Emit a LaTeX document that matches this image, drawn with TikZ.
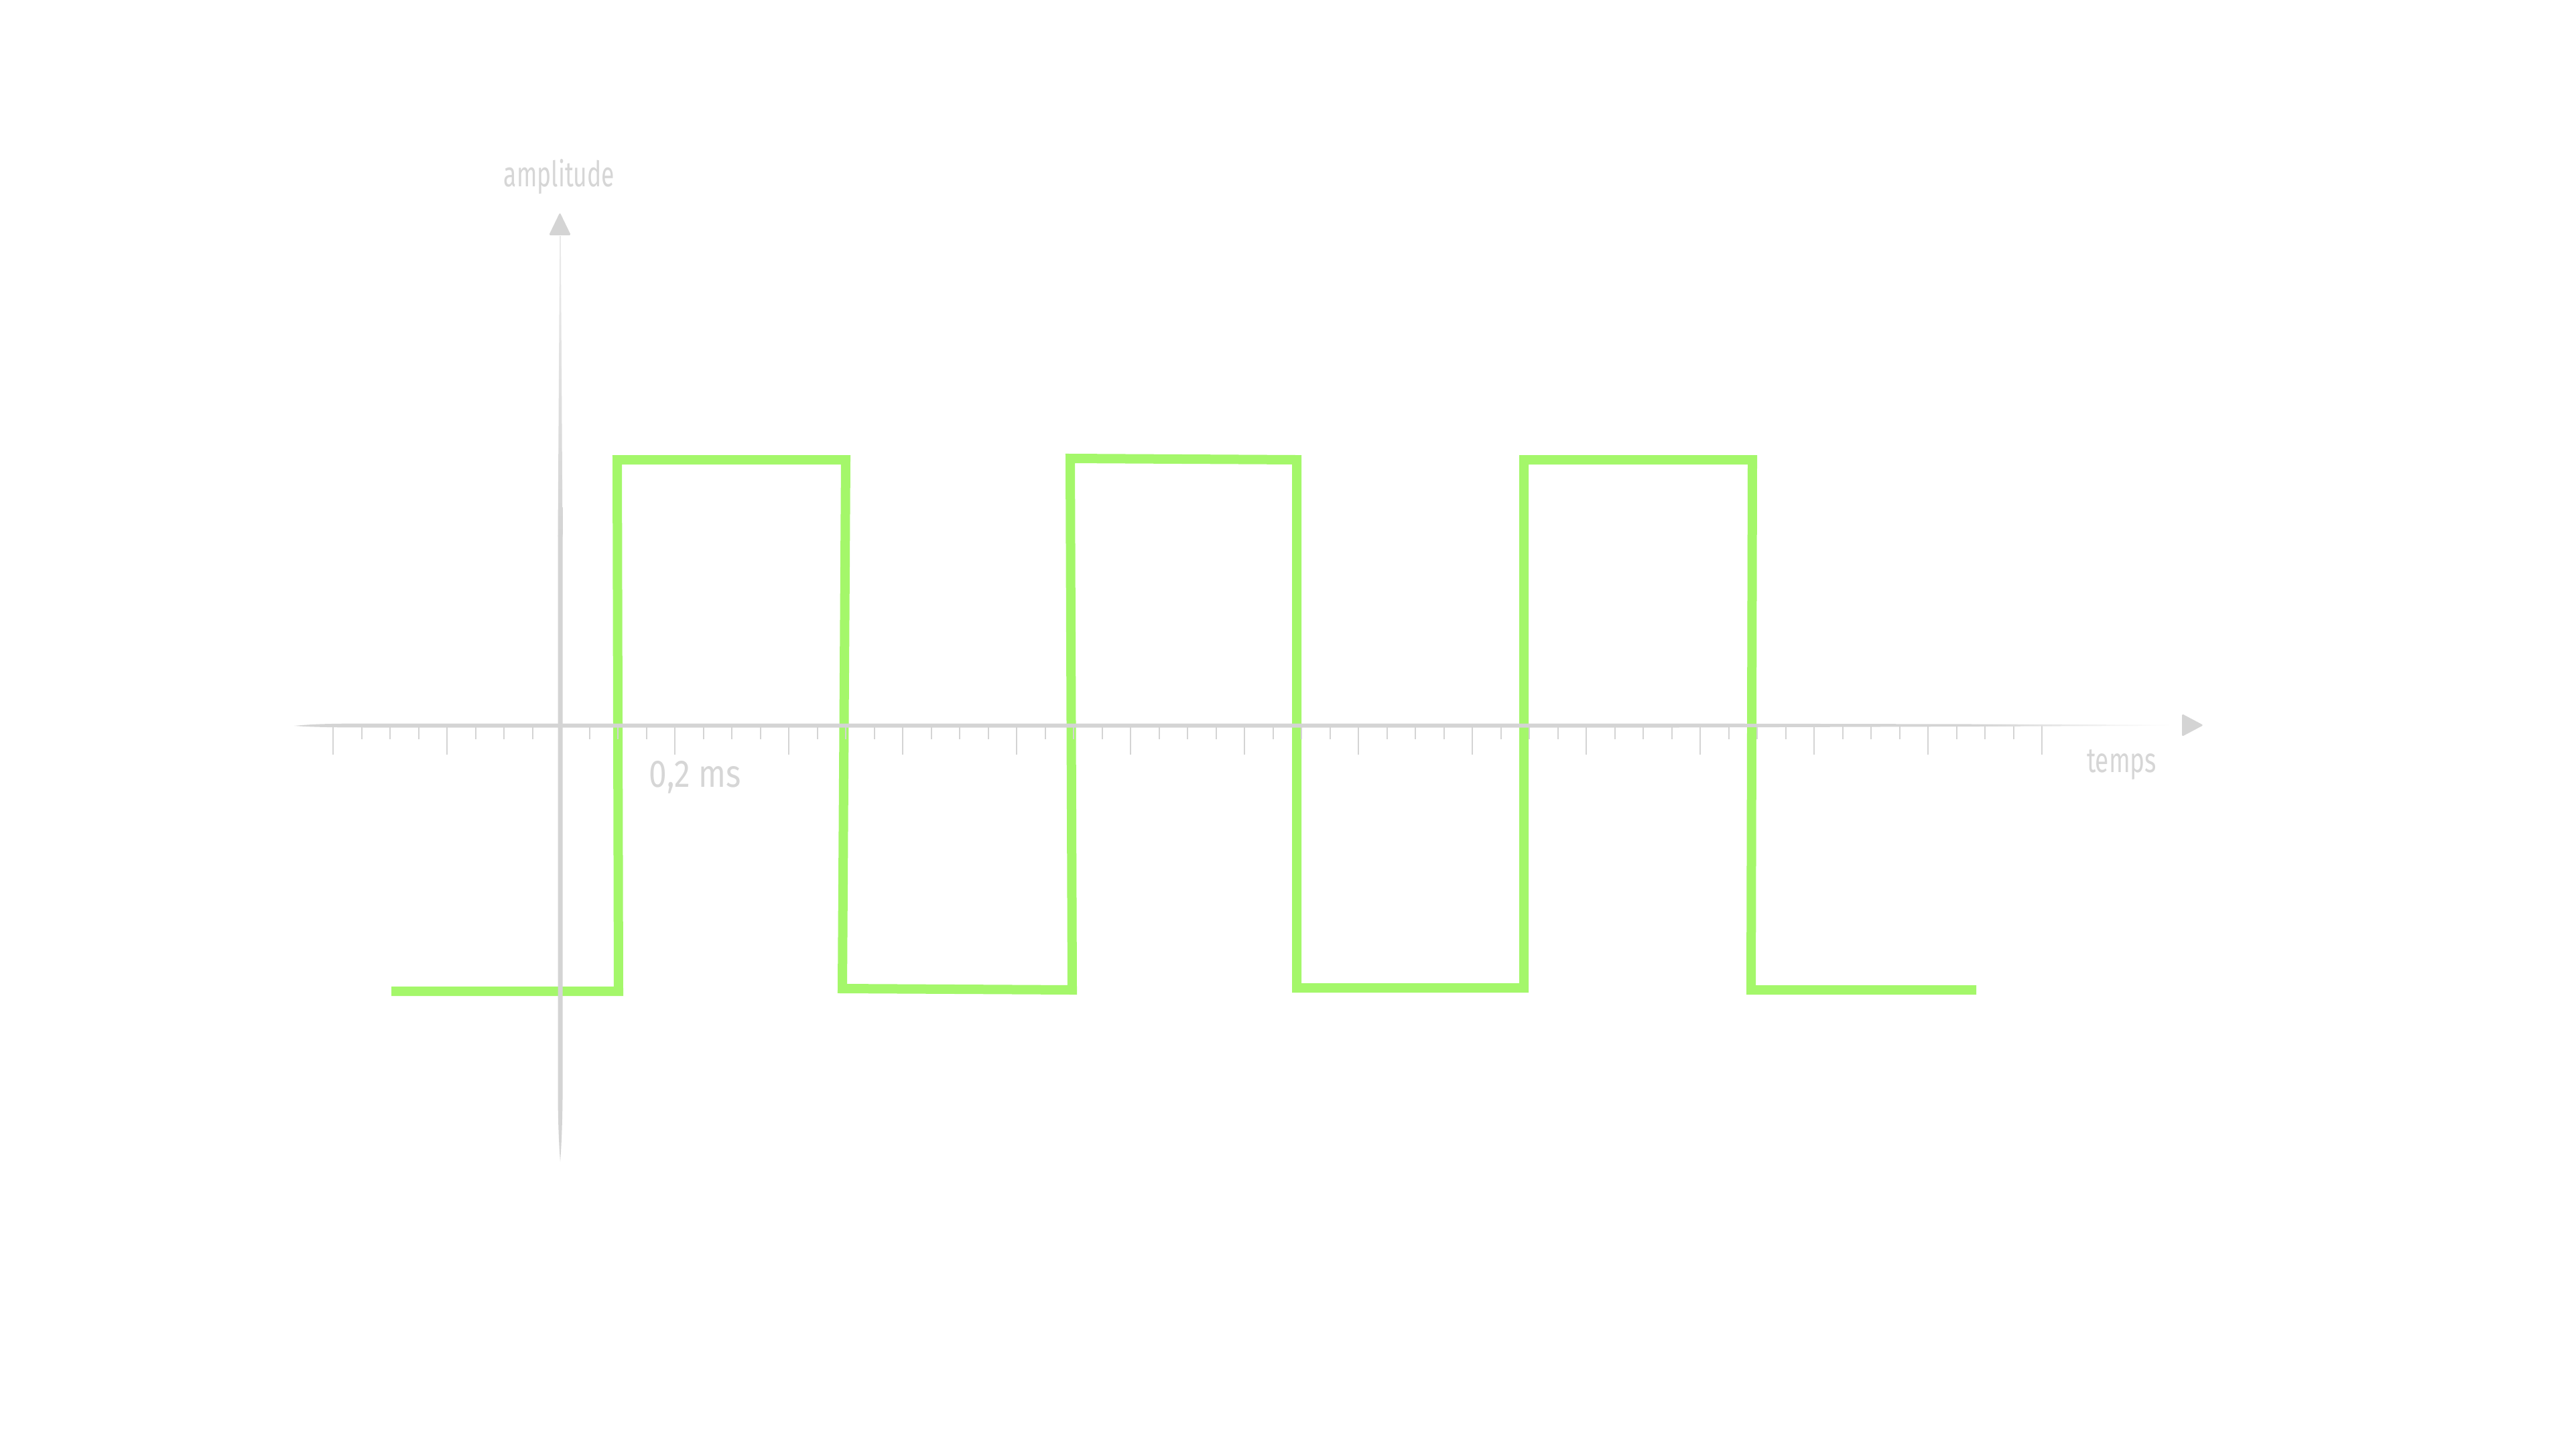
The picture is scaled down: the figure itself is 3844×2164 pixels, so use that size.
\documentclass[tikz,border=0pt]{standalone}
\usepackage{fontspec}
\newfontfamily\handfont{Fira Sans}
\definecolor{axisgray}{HTML}{D4D4D4}
\definecolor{axislight}{HTML}{EAEAEA}
\definecolor{wavegreen}{HTML}{A4F76A}
\definecolor{labelgray}{HTML}{D6D6D6}
\tikzset{
  wave/.style={draw=wavegreen,line width=14pt,line join=miter},
  tickmark/.style={draw=axisgray,line width=2pt},
  axisfill/.style={fill=axisgray},
  arrowtip/.style={fill=axisgray,rounded corners=2.5pt},
  lbl/.style={text=labelgray,inner sep=0pt,font=\handfont}
}
\begin{document}
\begin{tikzpicture}[x=1pt,y=-1pt]
\fill[white] (0,0) rectangle (3844,2164);
\useasboundingbox (0,0) rectangle (3844,2164);

% square wave
\draw[wave] (584,1479) -- (923,1479) -- (921,686) -- (1262,686) -- (1257,1475)
  -- (1600,1477) -- (1597,684) -- (1935,686) -- (1935,1474) -- (2274,1474)
  -- (2274,686) -- (2615,686) -- (2613,1477) -- (2949,1477);

% ticks
\foreach \i in {0,...,60}{
  \pgfmathtruncatemacro\r{mod(\i,4)}
  \pgfmathsetmacro\tx{497+42.5*\i}
  \ifnum\r=0
    \draw[tickmark] (\tx,1083) -- (\tx,1126);
  \else
    \draw[tickmark] (\tx,1083) -- (\tx,1103);
  \fi
}

% horizontal axis (tapered left end, fading right end)
\fill[axisgray] (439,1083) .. controls (470,1080) and (500,1079.5) .. (560,1079.5)
  -- (2500,1079.5) -- (2950,1080.5) -- (2950,1084) -- (2500,1085.5) -- (560,1085.5)
  .. controls (500,1085.5) and (470,1085) .. (439,1083) -- cycle;
\shade[left color=axisgray,right color=white] (2950,1080.5) -- (3240,1081.6)
  -- (3240,1082.8) -- (2950,1084) -- cycle;
\fill[arrowtip] (3256,1065) -- (3288,1082) -- (3256,1099) -- cycle;

% vertical axis
\shade[top color=axislight,bottom color=axisgray] (835.2,352) -- (836.8,352)
  -- (839.5,800) -- (832.5,800) -- cycle;
\fill[axisgray] (832.5,799) -- (839.5,799) -- (839.5,1640)
  .. controls (839,1690) and (837,1720) .. (836,1733)
  .. controls (835,1720) and (833,1690) .. (832.5,1640) -- cycle;
\fill[arrowtip] (819,351) -- (852,351) -- (835.5,317) -- cycle;

% labels
\node[lbl,anchor=base] (amp) at (834.5,278) {\resizebox{165pt}{41pt}{amplitude}};
\node[lbl,anchor=base] (tps) at (3166,1152) {\resizebox{104pt}{34pt}{temps}};
\node[lbl,anchor=base] (ms) at (1037.5,1174) {\resizebox{137pt}{39pt}{0,2 ms}};
\end{tikzpicture}
\end{document}
